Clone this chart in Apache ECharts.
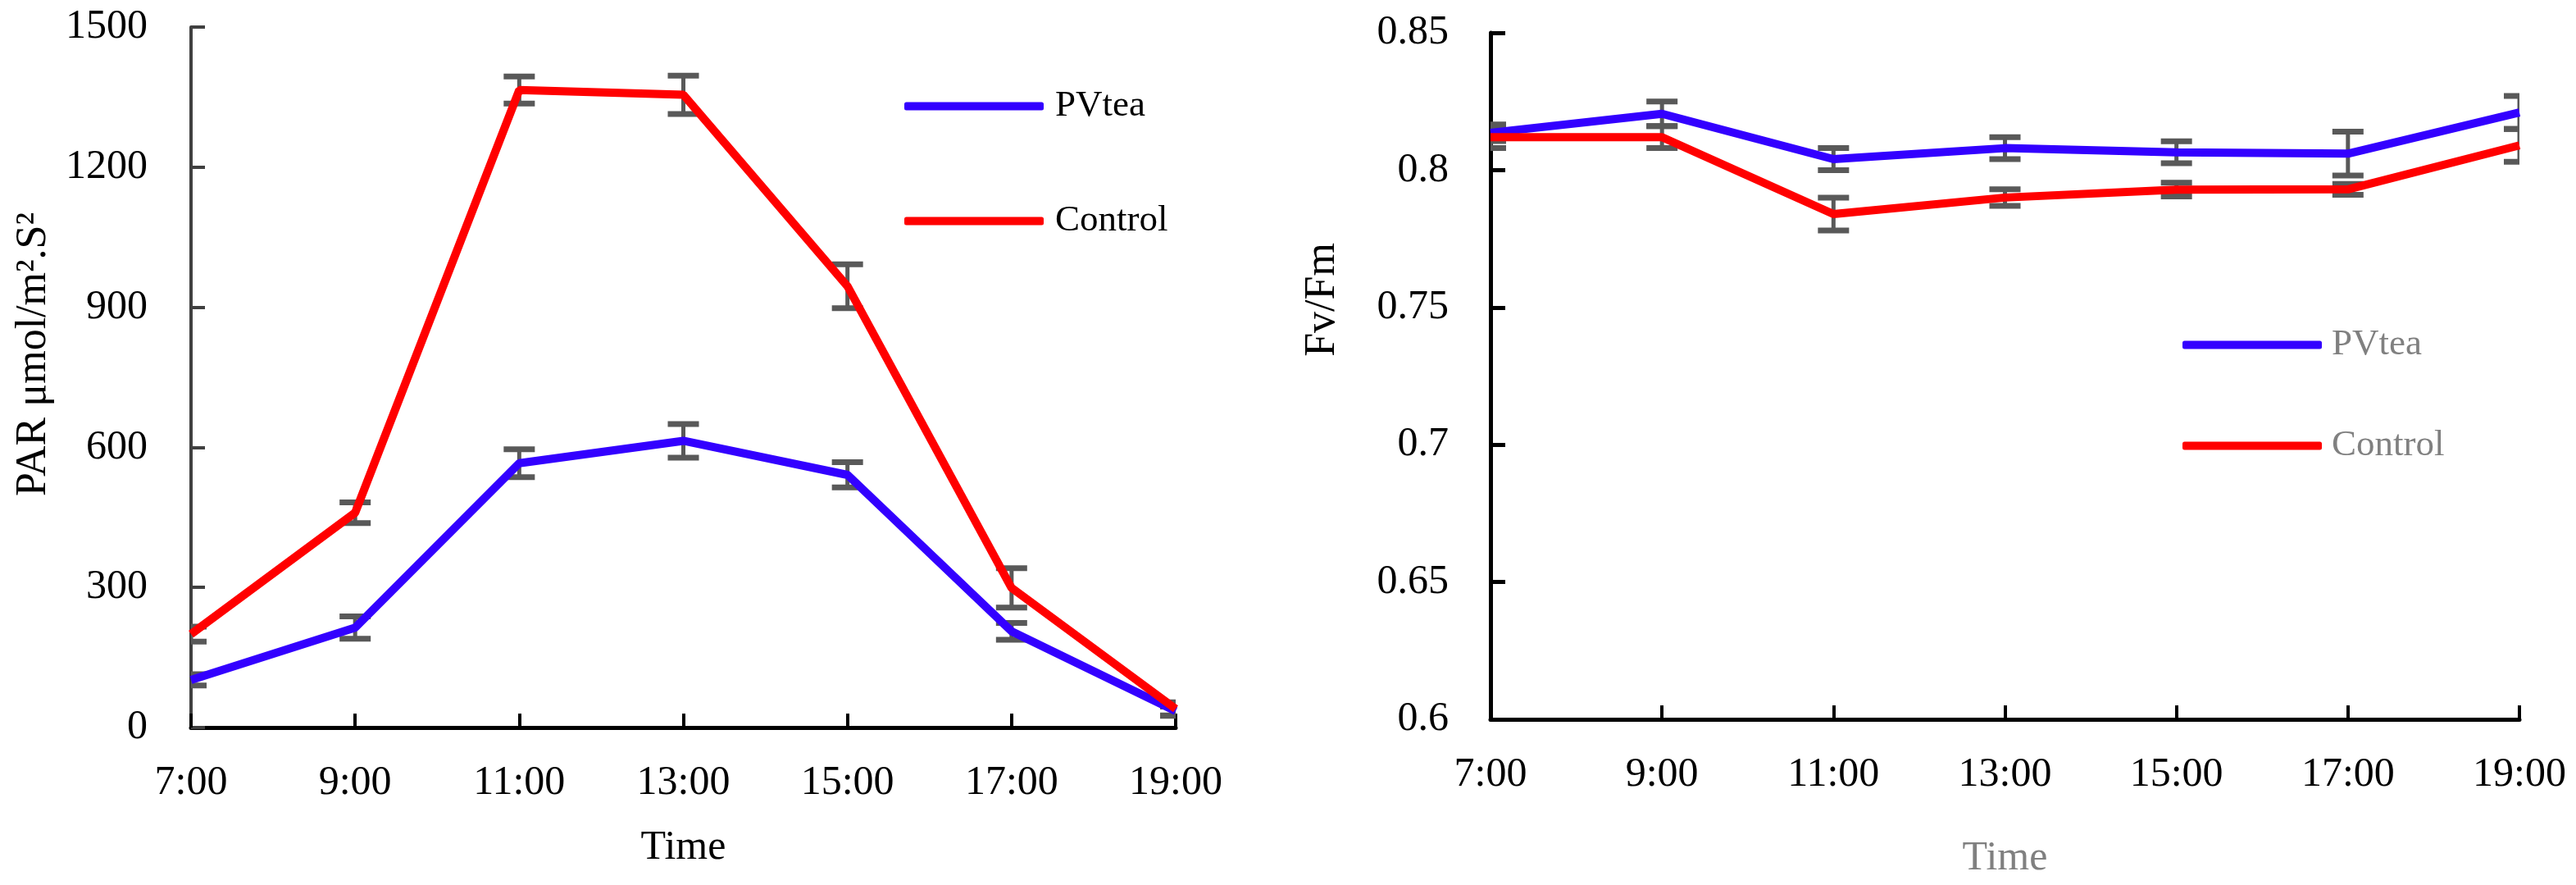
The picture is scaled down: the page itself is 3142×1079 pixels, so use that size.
<!DOCTYPE html>
<html>
<head>
<meta charset="utf-8">
<script src="https://cdn.jsdelivr.net/npm/echarts@6/dist/echarts.min.js"></script>
<style>
html,body{margin:0;padding:0;background:#fff;}
#chart{width:3142px;height:1079px;}
</style>
</head>
<body>
<div id="chart"></div>
<script>
const times = ['7:00', '9:00', '11:00', '13:00', '15:00', '17:00', '19:00'];
const seriesNames = ['PVtea', 'Control'];

const parPV = [102, 214, 566, 614, 541, 206, 35];
const parPVErr = [12, 24, 30, 36, 27, 18, 10];
const parCtrl = [200, 460, 1365, 1355, 945, 299, 40];
const parCtrlErr = [16, 22, 29, 41, 47, 42, 14];

const fvPV = [0.8136, 0.8205, 0.804, 0.808, 0.8065, 0.806, 0.821];
const fvPVErr = [0.003, 0.0045, 0.004, 0.004, 0.004, 0.008, 0.006];
const fvCtrl = [0.812, 0.812, 0.784, 0.790, 0.7929, 0.793, 0.809];
const fvCtrlErr = [0.004, 0.004, 0.006, 0.003, 0.0025, 0.002, 0.006];

const parTicks = {min: 0, max: 1500, interval: 300};
const fvTicks = {min: 0.6, max: 0.85, interval: 0.05};

const FONT = '"Liberation Serif", "DejaVu Serif", serif';
const BLUE = '#3300ff';
const RED = '#ff0000';
const ERR = '#595959';

function errData(vals, errs) {
  return vals.map((v, i) => [i, v - errs[i], v + errs[i]]);
}
function errRender(params, api) {
  const lo = api.coord([api.value(0), api.value(1)]);
  const hi = api.coord([api.value(0), api.value(2)]);
  const w = 19;
  const st = {stroke: ERR, lineWidth: 5};
  const cs = {stroke: ERR, lineWidth: 7};
  return {
    type: 'group',
    children: [
      {type: 'line', shape: {x1: lo[0], y1: lo[1], x2: hi[0], y2: hi[1]}, style: st},
      {type: 'line', shape: {x1: lo[0] - w, y1: lo[1], x2: lo[0] + w, y2: lo[1]}, style: cs},
      {type: 'line', shape: {x1: hi[0] - w, y1: hi[1], x2: hi[0] + w, y2: hi[1]}, style: cs}
    ]
  };
}

function xAxisCfg(gridIndex, nameColor, gap) {
  return {
    type: 'category', gridIndex: gridIndex, data: times, boundaryGap: false,
    name: 'Time', nameLocation: 'middle', nameGap: gap,
    nameTextStyle: {fontFamily: FONT, fontSize: 50, color: nameColor},
    axisLine: {lineStyle: {color: '#000', width: 5}},
    axisTick: {show: true, inside: true, length: 17, alignWithLabel: true, lineStyle: {color: '#000', width: 4}},
    axisLabel: {fontFamily: FONT, fontSize: 50, color: '#000', margin: 43, interval: 0},
    splitLine: {show: false}
  };
}

const chart = echarts.init(document.getElementById('chart'));
chart.setOption({
  backgroundColor: '#ffffff',
  animation: false,
  grid: [
    {left: 233, top: 33, width: 1201, height: 854, containLabel: false},
    {left: 1818, top: 40, width: 1255, height: 837, containLabel: false}
  ],
  legend: [
    {
      orient: 'vertical', left: 1098, top: 102, itemWidth: 170, itemHeight: 10, itemGap: 95,
      icon: 'roundRect', data: seriesNames,
      textStyle: {fontFamily: FONT, fontSize: 45, color: '#000', padding: [0, 0, 0, 9]}
    },
    {
      orient: 'vertical', left: 2657, top: 393, itemWidth: 170, itemHeight: 10, itemGap: 78,
      icon: 'roundRect', data: seriesNames,
      textStyle: {fontFamily: FONT, fontSize: 45, color: '#808080', padding: [0, 0, 0, 7]}
    }
  ],
  xAxis: [
    xAxisCfg(0, '#000', 122),
    xAxisCfg(1, '#808080', 145)
  ],
  yAxis: [
    {
      type: 'value', gridIndex: 0, min: parTicks.min, max: parTicks.max, interval: parTicks.interval,
      name: 'PAR μmol/m².S²', nameLocation: 'middle', nameGap: 166,
      nameTextStyle: {fontFamily: FONT, fontSize: 52, color: '#000', padding: [0, 0, 0, 56]},
      axisLine: {show: true, lineStyle: {color: '#404040', width: 4}},
      axisTick: {show: true, inside: true, length: 17, lineStyle: {color: '#404040', width: 4}},
      axisLabel: {fontFamily: FONT, fontSize: 50, color: '#000', margin: 53, formatter: v => String(v)},
      splitLine: {show: false}
    },
    {
      type: 'value', gridIndex: 1, min: fvTicks.min, max: fvTicks.max, interval: fvTicks.interval,
      name: 'Fv/Fm', nameLocation: 'middle', nameGap: 179,
      nameTextStyle: {fontFamily: FONT, fontSize: 52, color: '#000', padding: [0, 0, 0, 186]},
      axisLine: {show: true, lineStyle: {color: '#000', width: 5}},
      axisTick: {show: true, inside: true, length: 18, lineStyle: {color: '#000', width: 5}},
      axisLabel: {fontFamily: FONT, fontSize: 50, color: '#000', margin: 51, formatter: v => String(+(+v).toFixed(2))},
      splitLine: {show: false}
    }
  ],
  series: [
    {type: 'custom', name: 'PVtea err', xAxisIndex: 0, yAxisIndex: 0, renderItem: errRender, data: errData(parPV, parPVErr), clip: true, z: 1, silent: true},
    {type: 'custom', name: 'Control err', xAxisIndex: 0, yAxisIndex: 0, renderItem: errRender, data: errData(parCtrl, parCtrlErr), clip: true, z: 1, silent: true},
    {type: 'custom', name: 'PVtea err2', xAxisIndex: 1, yAxisIndex: 1, renderItem: errRender, data: errData(fvPV, fvPVErr), clip: true, z: 1, silent: true},
    {type: 'custom', name: 'Control err2', xAxisIndex: 1, yAxisIndex: 1, renderItem: errRender, data: errData(fvCtrl, fvCtrlErr), clip: true, z: 1, silent: true},
    {type: 'line', name: 'PVtea', xAxisIndex: 0, yAxisIndex: 0, data: parPV, symbol: 'none', lineStyle: {color: BLUE, width: 10}, itemStyle: {color: BLUE}, z: 3},
    {type: 'line', name: 'Control', xAxisIndex: 0, yAxisIndex: 0, data: parCtrl, symbol: 'none', lineStyle: {color: RED, width: 10}, itemStyle: {color: RED}, z: 3},
    {type: 'line', name: 'PVtea', xAxisIndex: 1, yAxisIndex: 1, data: fvPV, symbol: 'none', lineStyle: {color: BLUE, width: 10}, itemStyle: {color: BLUE}, z: 3},
    {type: 'line', name: 'Control', xAxisIndex: 1, yAxisIndex: 1, data: fvCtrl, symbol: 'none', lineStyle: {color: RED, width: 10}, itemStyle: {color: RED}, z: 3}
  ]
});
</script>
</body>
</html>
